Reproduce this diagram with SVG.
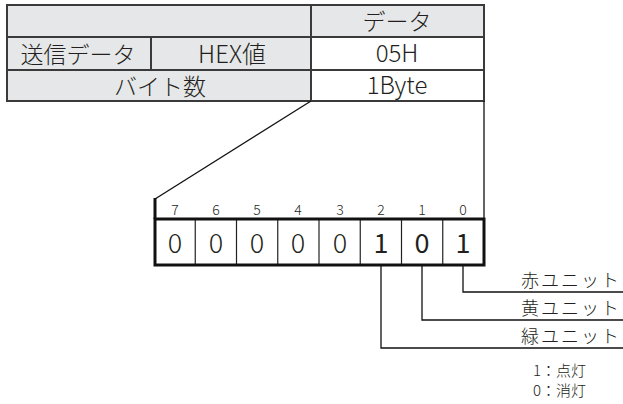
<svg xmlns="http://www.w3.org/2000/svg" width="623" height="404" viewBox="0 0 623 404">
  <style>
    text { font-family: "Noto Sans CJK JP", "Noto Sans", sans-serif; fill: #231f20; }
    .cell { stroke: #3a3a3a; stroke-width: 2; }
    .grey { fill: #e6e7e8; }
    .white { fill: #ffffff; }
    .th { font-size: 23px; font-weight: 300; text-anchor: middle; }
    .lat { font-size: 24px; }
    .bitno { font-size: 14px; font-weight: 300; text-anchor: middle; }
    .bit { font-size: 27px; font-weight: 300; text-anchor: middle; }
    .bit.on { font-weight: 400; }
    .lbl { font-size: 18px; font-weight: 300; }
    .note { font-size: 15px; font-weight: 300; }
    .wire { fill: none; stroke: #111; stroke-width: 1.3; }
  </style>

  <!-- data table -->
  <g id="table">
    <rect class="cell grey" x="7" y="5" width="304" height="32"/>
    <rect class="cell grey" x="311" y="5" width="173" height="32"/>
    <rect class="cell grey" x="7" y="37" width="144" height="33"/>
    <rect class="cell grey" x="151" y="37" width="160" height="33"/>
    <rect class="cell white" x="311" y="37" width="173" height="33"/>
    <rect class="cell grey" x="7" y="70" width="304" height="31"/>
    <rect class="cell white" x="311" y="70" width="173" height="31"/>
    <text class="th" x="397" y="30">データ</text>
    <text class="th" x="78" y="63">送信データ</text>
    <text class="th lat" x="232" y="63">HEX値</text>
    <text class="th lat" x="397" y="62">05H</text>
    <text class="th" x="160" y="95">バイト数</text>
    <text class="th lat" x="397" y="94">1Byte</text>
  </g>

  <!-- expansion lines from the byte cell to the bit field -->
  <g id="connectors">
    <polyline class="wire" points="311,101 155,199"/>
    <line class="wire" x1="484" y1="101" x2="484" y2="219"/>
    <polyline class="wire" points="463,265 463,292 623,292"/>
    <polyline class="wire" points="422,265 422,320 623,320"/>
    <polyline class="wire" points="381,265 381,348 623,348"/>
  </g>

  <!-- bit field -->
  <g id="bits">
    <line x1="155" y1="198" x2="155" y2="219" stroke="#111" stroke-width="3"/>
    <g stroke="#222" stroke-width="1.2">
      <line x1="195.25" y1="219" x2="195.25" y2="265"/>
      <line x1="236.5" y1="219" x2="236.5" y2="265"/>
      <line x1="277.75" y1="219" x2="277.75" y2="265"/>
      <line x1="319" y1="219" x2="319" y2="265"/>
      <line x1="360.25" y1="219" x2="360.25" y2="265"/>
      <line x1="401.5" y1="219" x2="401.5" y2="265"/>
      <line x1="442.75" y1="219" x2="442.75" y2="265"/>
    </g>
    <rect x="155" y="219" width="329" height="46" fill="none" stroke="#111" stroke-width="3"/>
    <text class="bitno" x="175" y="215">7</text>
    <text class="bitno" x="216" y="215">6</text>
    <text class="bitno" x="257" y="215">5</text>
    <text class="bitno" x="298" y="215">4</text>
    <text class="bitno" x="340" y="215">3</text>
    <text class="bitno" x="381" y="215">2</text>
    <text class="bitno" x="422" y="215">1</text>
    <text class="bitno" x="463" y="215">0</text>
    <text class="bit" x="175" y="253">0</text>
    <text class="bit" x="216" y="253">0</text>
    <text class="bit" x="257" y="253">0</text>
    <text class="bit" x="298" y="253">0</text>
    <text class="bit" x="340" y="253">0</text>
    <text class="bit on" x="381" y="253">1</text>
    <text class="bit on" x="422" y="253">0</text>
    <text class="bit on" x="463" y="253">1</text>
  </g>

  <!-- unit labels -->
  <g id="labels">
    <text class="lbl" x="521" y="287" textLength="98">赤ユニット</text>
    <text class="lbl" x="521" y="315" textLength="98">黄ユニット</text>
    <text class="lbl" x="521" y="343" textLength="98">緑ユニット</text>
  </g>

  <!-- legend -->
  <g id="legend">
    <text class="note" x="533" y="376">1：点灯</text>
    <text class="note" x="533" y="396">0：消灯</text>
  </g>
</svg>
